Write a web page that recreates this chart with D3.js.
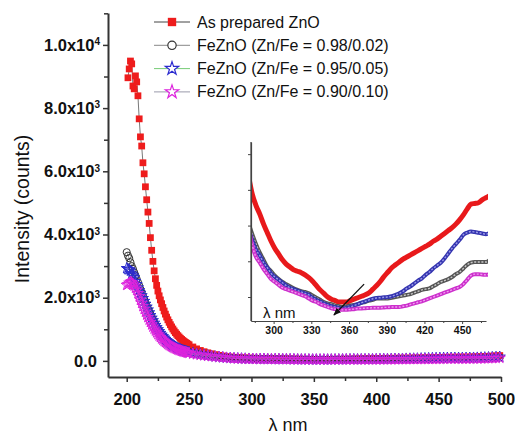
<!DOCTYPE html>
<html>
<head>
<meta charset="utf-8">
<script src="https://cdn.jsdelivr.net/npm/d3@7"></script>
<style>
  html, body { margin: 0; padding: 0; background: #fff; }
  svg { display: block; font-family: 'Liberation Sans', Arial, sans-serif; }
</style>
</head>
<body>
<svg id="chart" width="515" height="438"></svg>
<script>
// ---------------- DATA ----------------
const wavelengths = [
  200,201,202,203,204,205,206,207,208,209,210,211,212,213,214,215,216,217,218,219,
  220,221,222,223,224,225,226,227,228,229,230,231,232,233,234,235,236,237,238,239,
  240,241,242,243,244,245,246,247,248,249,250,
  253,256,259,262,265,268,271,274,277,280,
  283,286,289,292,295,298,301,304,307,310,313,316,319,322,325,328,331,334,337,340,
  343,346,349,352,355,358,361,364,367,370,373,376,379,382,385,388,391,394,397,400,
  403,406,409,412,415,418,421,424,427,430,433,436,439,442,445,448,451,454,457,460,
  463,466,469,
  472,475,478,481,484,487,490,493,496,499
];

const seriesNames = [
  "As prepared ZnO",
  "FeZnO (Zn/Fe = 0.98/0.02)",
  "FeZnO (Zn/Fe = 0.95/0.05)",
  "FeZnO (Zn/Fe = 0.90/0.10)"
];

const asPreparedZnO = [
  null,8960,9240,9490,9400,8700,8610,9020,8830,8390,7660,7090,6800,6270,5920,5510,5100,4710,4350,3900,
  3500,3150,2850,2600,2390,2210,2060,1930,1810,1690,1580,1480,1385,1300,1220,1145,1075,1010,950,895,
  845,798,755,715,678,645,614,585,558,533,510,
  440,380,330,290,255,225,198,175,155,135,
  122,114,108,101,95,89,84,80,76,73,71,69,68,67,65.5,63.5,61,58,55,52.5,
  50,48.5,47.5,46.5,46.5,46.5,47.5,48.5,49.5,50.5,51.5,53,55.5,58,61,64.5,67.5,70.5,72.5,74.5,
  76.5,78,79.5,81,82.5,84,85.5,87,89,90.5,92.5,94.5,96.5,98.5,101,104,107.5,111.5,115,115.5,
  116,118,119.5,
  121,123,126,129,133,138,144,151,159,168
];

const feZnO098 = [
  3440,3330,3250,3120,3000,2910,2800,2700,2590,2490,2380,2270,2160,2050,1950,1850,1750,1660,1570,1480,
  1390,1310,1230,1150,1080,1010,950,890,835,785,738,695,655,618,584,552,522,495,470,447,
  426,406,388,371,355,340,326,313,301,290,280,
  255,232,210,190,172,155,140,126,113,102,
  94,87,81,76,71,68,65,62.5,60.5,59,57.5,56,55,54,53.5,52.5,51,49.5,48,46.5,
  45.5,45,44,43.5,43,43.5,44,44.5,45,46,46.5,47.5,48,49,49,49,49,49.5,50,50.5,
  51,51.5,52,53,54,55,55.5,56,57.5,59,60.5,61.5,62.5,64,66,67.5,70,72.5,74,74.5,
  74.5,74.5,74.5,
  76,77,79,81,84,87,91,95,100,106
];

const feZnO095 = [
  2930,2900,2890,2850,2760,2700,2640,2520,2420,2320,2230,2150,2070,1980,1890,1800,1710,1620,1530,1440,
  1360,1280,1200,1130,1060,995,935,878,825,775,730,688,648,612,578,547,518,491,466,443,
  422,402,384,367,351,336,322,309,297,286,276,
  250,226,205,186,168,152,137,123,110,98,
  90,83,79,74,70.5,66.5,64,62,60,58,56.5,55.5,54.5,53.5,52.5,51.5,49.5,48,47,45.5,
  44.5,43.5,43,42.3,42,42.3,43,44,45,46,47,48,48.8,49.3,49.5,49.8,50,50.5,51.5,52.5,
  54,56,57.5,59.5,61.5,63,65.5,67.5,70,72,74,77,80.5,84,87,90,93.5,95,95.8,95.5,
  95,94.5,94,
  95,96,98,100,103,107,111,116,121,127
];

const feZnO090 = [
  2400,2420,2470,2500,2480,2440,2380,2310,2240,2140,2040,1930,1830,1730,1640,1550,1460,1380,1300,1225,
  1150,1080,1015,955,898,845,795,748,705,665,628,593,561,531,503,477,453,431,410,391,
  373,356,340,326,312,299,287,276,266,257,248,
  225,205,187,171,157,144,132,121,111,100,
  86,78,74,69.5,66,62.5,60.5,58.5,56.5,55.5,54.5,53.5,52.5,51.5,50.5,49,47.5,46.5,45,44,
  43,42,41.5,41,41,41,41.3,41.5,42,42,42.2,42.3,42.5,42.5,42.5,42.7,42.8,43,43,43,
  43.5,44,44.8,45.5,46.3,47,48,49,50,51,52,53,54,55,56,57,59,62,65,66,
  66,65.7,65.5,
  66,67,68,70,72,75,79,83,88,94
];

const xTickValues = [200, 250, 300, 350, 400, 450, 500];
const xMinorTicks = [225, 275, 325, 375, 425, 475];
const yTickValues = [0, 2000, 4000, 6000, 8000, 10000];
const yTickMantissa = ["0.0", "2.0x10", "4.0x10", "6.0x10", "8.0x10", "1.0x10"];
const yTickExponent = ["", "3", "3", "3", "3", "4"];
const yMinorTicks = [1000, 3000, 5000, 7000, 9000, 11000];

const insetXTicks = [300, 330, 360, 390, 420, 450];
const insetXMinor = [285, 315, 345, 375, 405, 435, 465];
const insetYTicks = [50, 75, 100, 125, 150];
const arrowFrom = [372, 59];
const arrowTo = [348, 37.4];

// ---------------- STYLE ----------------
const styles = [
  { marker: "square", fill: "#ee1c1c", stroke: "none", line: "#555", legendLine: "#444",
    insetOuter: "#e8191b", insetInner: null },
  { marker: "circle", fill: "none", stroke: "#333", line: "#777", legendLine: "#888",
    insetOuter: "#555", insetInner: "#c8c8c8" },
  { marker: "star", fill: "none", stroke: "#2b2bcf", line: "#6a6ad8", legendLine: "#77cc77",
    insetOuter: "#3434b0", insetInner: "#9a9ae6" },
  { marker: "star", fill: "none", stroke: "#dd22dd", line: "#c060c0", legendLine: "#9999aa",
    insetOuter: "#cc30cc", insetInner: "#f09af0" }
];
const seriesValues = [asPreparedZnO, feZnO098, feZnO095, feZnO090];
const series = seriesNames.map((name, i) => ({
  name, style: styles[i],
  points: wavelengths.map((x, j) => ({ x, y: seriesValues[i][j] })).filter(p => p.y !== null)
}));

const svg = d3.select("#chart");
const FONT = "'Liberation Sans', Arial, sans-serif";

// ---------------- MAIN SCALES ----------------
const x = d3.scaleLinear().domain([185, 500]).range([108, 501]);
const y = d3.scaleLinear().domain([-510, 11010]).range([377, 13]);

function drawMarker(g, type, size, fill, stroke, sw) {
  let sym;
  if (type === "square") sym = d3.symbol(d3.symbolSquare, size);
  else if (type === "circle") sym = d3.symbol(d3.symbolCircle, size);
  else sym = d3.symbol(d3.symbolStar, size);
  return g.append("path").attr("d", sym()).attr("fill", fill).attr("stroke", stroke)
    .attr("stroke-width", sw);
}

// Series in main plot
const mainG = svg.append("g");
series.forEach(s => {
  const line = d3.line().x(d => x(d.x)).y(d => y(d.y));
  mainG.append("path").datum(s.points).attr("d", line)
    .attr("fill", "none").attr("stroke", s.style.line).attr("stroke-width", 0.8);
  const mg = mainG.append("g");
  s.points.forEach(p => {
    const gg = mg.append("g").attr("transform", `translate(${x(p.x)},${y(p.y)})`);
    if (s.style.marker === "square") drawMarker(gg, "square", 46, s.style.fill, "none", 0);
    else if (s.style.marker === "circle") drawMarker(gg, "circle", 40, "none", s.style.stroke, 1);
    else drawMarker(gg, "star", 38, "none", s.style.stroke, 1);
  });
});

// Axes
const axisColor = "#333";
const xAxis = d3.axisBottom(x).tickValues(xTickValues).tickSize(5).tickSizeOuter(0).tickPadding(11)
  .tickFormat(d3.format("d"));
const gx = svg.append("g").attr("transform", "translate(0,377)").call(xAxis);
gx.select(".domain").attr("stroke", axisColor).attr("stroke-width", 2);
gx.selectAll(".tick line").attr("stroke", axisColor).attr("stroke-width", 1.5);
gx.selectAll(".tick text").attr("font-family", FONT).attr("font-size", 16.5)
  .attr("font-weight", "bold").attr("fill", "#111");
const gxm = svg.append("g").attr("transform", "translate(0,377)")
  .call(d3.axisBottom(x).tickValues(xMinorTicks).tickSize(4).tickSizeOuter(0).tickFormat(""));
gxm.select(".domain").remove();
gxm.selectAll(".tick line").attr("stroke", axisColor).attr("stroke-width", 1.5);

const yAxis = d3.axisLeft(y).tickValues(yTickValues).tickSize(5).tickSizeOuter(0).tickPadding(6)
  .tickFormat((d, i) => yTickMantissa[i]);
const gy = svg.append("g").attr("transform", "translate(108,0)").call(yAxis);
gy.select(".domain").attr("stroke", axisColor).attr("stroke-width", 2);
gy.selectAll(".tick line").attr("stroke", axisColor).attr("stroke-width", 1.5);
gy.selectAll(".tick text").attr("font-family", FONT).attr("font-size", 16.5)
  .attr("font-weight", "bold").attr("fill", "#111")
  .each(function(d, i) {
    if (yTickExponent[i]) {
      const t = d3.select(this);
      t.attr("x", -8);
      t.append("tspan").attr("dy", "-0.55em").attr("font-size", 10).text(yTickExponent[i]);
    }
  });
const gym = svg.append("g").attr("transform", "translate(108,0)")
  .call(d3.axisLeft(y).tickValues(yMinorTicks).tickSize(4).tickSizeOuter(0).tickFormat(""));
gym.select(".domain").remove();
gym.selectAll(".tick line").attr("stroke", axisColor).attr("stroke-width", 1.5);

// Axis titles
svg.append("text").attr("transform", "translate(22,209) rotate(-90)")
  .attr("text-anchor", "middle").attr("dominant-baseline", "central")
  .attr("font-family", FONT).attr("font-size", 19.5).attr("fill", "#111")
  .text("Intensity (counts)");
svg.append("text").attr("x", 288).attr("y", 431).attr("text-anchor", "middle")
  .attr("font-family", FONT).attr("font-size", 18).attr("fill", "#111")
  .text("λ nm");

// ---------------- LEGEND ----------------
const legend = svg.append("g");
series.forEach((s, i) => {
  const cy = 22 + i * 23.3;
  legend.append("line").attr("x1", 154).attr("x2", 190).attr("y1", cy).attr("y2", cy)
    .attr("stroke", s.style.legendLine).attr("stroke-width", 1);
  const mg = legend.append("g").attr("transform", `translate(172,${cy})`);
  if (s.style.marker === "square") drawMarker(mg, "square", 70, s.style.fill, "none", 0);
  else if (s.style.marker === "circle") drawMarker(mg, "circle", 55, "#fff", s.style.stroke, 1.2);
  else drawMarker(mg, "star", 55, "#fff", s.style.stroke, 1.2);
  legend.append("text").attr("x", 197).attr("y", cy).attr("dominant-baseline", "central")
    .attr("font-family", FONT).attr("font-size", 16).attr("fill", "#111").text(s.name);
});

// ---------------- INSET ----------------
const xi = d3.scaleLinear().domain([282, 469]).range([251, 486]);
const yi = d3.scaleLinear().domain([33.2, 158.5]).range([321, 142]);
const inset = svg.append("g");
svg.append("defs").append("clipPath").attr("id", "insetClip")
  .append("rect").attr("x", 251).attr("y", 138).attr("width", 237).attr("height", 183);

const insetCurves = inset.append("g").attr("clip-path", "url(#insetClip)");
series.forEach(s => {
  const pts = s.points.filter(p => p.x >= 279 && p.x <= 472);
  const line = d3.line().x(d => xi(d.x)).y(d => yi(d.y)).curve(d3.curveMonotoneX);
  insetCurves.append("path").datum(pts).attr("d", line).attr("fill", "none")
    .attr("stroke", s.style.insetOuter).attr("stroke-width", s.style.insetInner ? 4 : 5);
  if (s.style.insetInner) {
    insetCurves.append("path").datum(pts).attr("d", line).attr("fill", "none")
      .attr("stroke", s.style.insetInner).attr("stroke-width", 1.4)
      .attr("stroke-dasharray", "2,1.6");
  }
});

const ixAxis = d3.axisBottom(xi).tickValues(insetXTicks).tickSize(3).tickSizeOuter(0).tickPadding(3)
  .tickFormat(d3.format("d"));
const gix = inset.append("g").attr("transform", "translate(0,321)").call(ixAxis);
gix.select(".domain").attr("stroke", "#444").attr("stroke-width", 1.2);
gix.selectAll(".tick line").attr("stroke", "#444");
gix.selectAll(".tick text").attr("font-family", FONT).attr("font-size", 10.5)
  .attr("font-weight", "bold").attr("fill", "#111");
const gixm = inset.append("g").attr("transform", "translate(0,321)")
  .call(d3.axisBottom(xi).tickValues(insetXMinor).tickSize(2).tickSizeOuter(0).tickFormat(""));
gixm.select(".domain").remove();
gixm.selectAll(".tick line").attr("stroke", "#444");

const giy = inset.append("g").attr("transform", "translate(251,0)")
  .call(d3.axisLeft(yi).tickValues(insetYTicks).tickSize(3).tickSizeOuter(0).tickFormat(""));
giy.select(".domain").attr("stroke", "#444").attr("stroke-width", 1.2);
giy.selectAll(".tick line").attr("stroke", "#444");
// axis line extending to full height
inset.append("line").attr("x1", 251).attr("x2", 251).attr("y1", yi.range()[1]).attr("y2", yi.range()[0])
  .attr("stroke", "#444").attr("stroke-width", 1.2);

inset.append("text").attr("x", 263).attr("y", 318).attr("font-family", FONT)
  .attr("font-size", 15).attr("fill", "#111").text("λ nm");

// Arrow
svg.select("defs").append("marker").attr("id", "arrowHead").attr("viewBox", "0 0 10 10")
  .attr("refX", 9).attr("refY", 5).attr("markerWidth", 6).attr("markerHeight", 6)
  .attr("orient", "auto").append("path").attr("d", "M0,1 L10,5 L0,9 z").attr("fill", "#111");
inset.append("line")
  .attr("x1", xi(arrowFrom[0])).attr("y1", yi(arrowFrom[1]))
  .attr("x2", xi(arrowTo[0])).attr("y2", yi(arrowTo[1]))
  .attr("stroke", "#111").attr("stroke-width", 1.3).attr("marker-end", "url(#arrowHead)");
</script>
</body>
</html>
